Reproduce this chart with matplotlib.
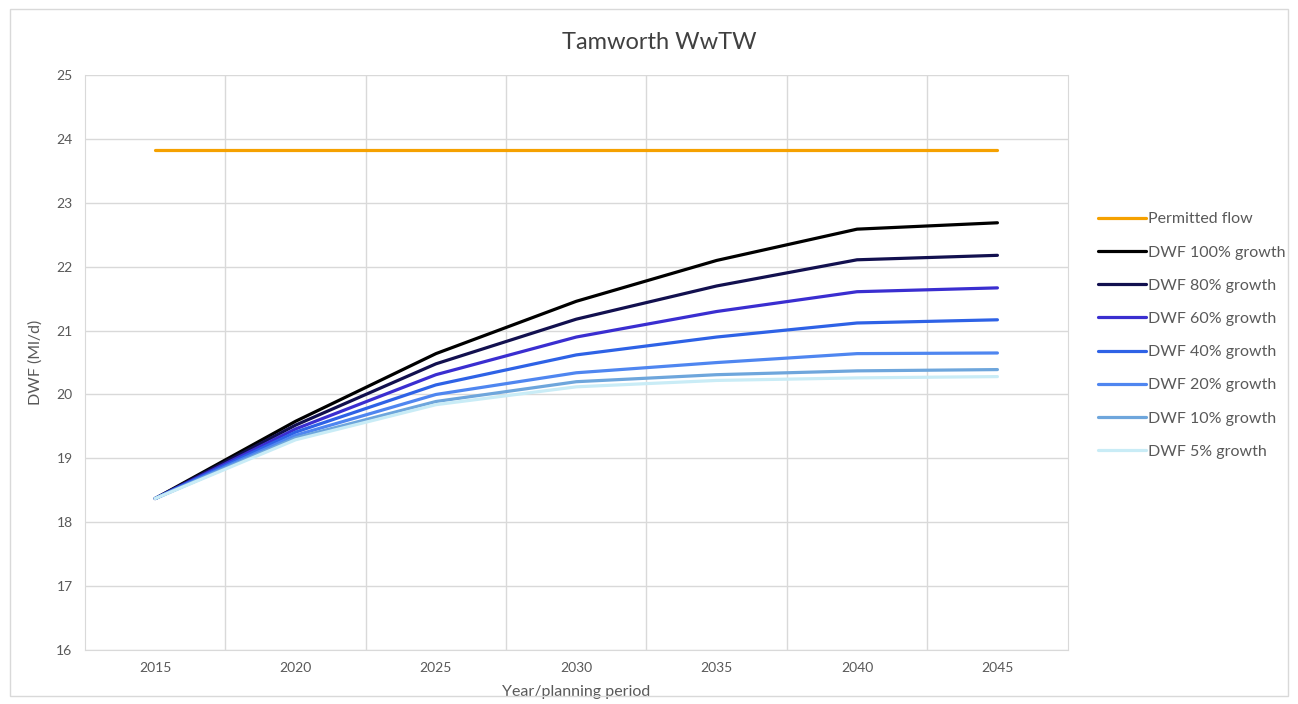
import matplotlib
matplotlib.use("Agg")
import matplotlib.pyplot as plt
from matplotlib.patches import Rectangle

plt.rcParams['font.family'] = ['Lato', 'DejaVu Sans']

years = ["2015", "2020", "2025", "2030", "2035", "2040", "2045"]

permitted = [23.83, 23.83, 23.83, 23.83, 23.83, 23.83, 23.83]
dwf_100 = [18.37, 19.58, 20.64, 21.46, 22.10, 22.59, 22.69]
dwf_80 = [18.37, 19.52, 20.48, 21.18, 21.70, 22.11, 22.18]
dwf_60 = [18.37, 19.46, 20.31, 20.90, 21.30, 21.61, 21.67]
dwf_40 = [18.37, 19.41, 20.15, 20.62, 20.90, 21.12, 21.17]
dwf_20 = [18.37, 19.36, 20.00, 20.34, 20.50, 20.64, 20.65]
dwf_10 = [18.37, 19.32, 19.89, 20.20, 20.31, 20.37, 20.39]
dwf_5 = [18.37, 19.29, 19.84, 20.12, 20.22, 20.26, 20.28]

labels = ["Permitted flow", "DWF 100% growth", "DWF 80% growth", "DWF 60% growth",
          "DWF 40% growth", "DWF 20% growth", "DWF 10% growth", "DWF 5% growth"]
colors = ["#f5a100", "#000000", "#12104f", "#3a2ed0", "#2e62e6", "#4f86f0", "#6ea6dc", "#c9ecf6"]
series = [permitted, dwf_100, dwf_80, dwf_60, dwf_40, dwf_20, dwf_10, dwf_5]

fig = plt.figure(figsize=(12.98, 7.04), dpi=100)
ax = fig.add_axes([0.0655, 0.077, 0.757, 0.816])

x = list(range(len(years)))
for ys, c, lab in zip(series, colors, labels):
    ax.plot(x, ys, color=c, linewidth=2.3, label=lab, solid_capstyle='round')

ax.set_xlim(-0.5, 6.5)
ax.set_ylim(16, 25)
ax.set_xticks(x)
ax.set_xticklabels(years)
ax.set_xticks([i + 0.5 for i in range(6)], minor=True)
ax.set_yticks(range(16, 26))
ax.grid(True, which='major', axis='y', color='#d9d9d9', linewidth=1)
ax.grid(True, which='minor', axis='x', color='#d9d9d9', linewidth=1)
ax.tick_params(which='both', length=0, colors='#595959', labelsize=10, pad=9)
for s in ax.spines.values():
    s.set_color('#d9d9d9')
ax.spines['top'].set_visible(False)

fig.text(0.508, 0.94, "Tamworth WwTW", fontsize=17, color='#404040', ha='center', va='center')
ax.set_xlabel("Year/planning period", fontsize=11.5, color='#595959', labelpad=8)
ax.set_ylabel("DWF (Ml/d)", fontsize=11.5, color='#595959', labelpad=10)

fig.legend(loc='upper left', bbox_to_anchor=(0.835, 0.719), frameon=False,
           fontsize=11.5, labelcolor='#595959', handlelength=3.0, handletextpad=0.1,
           labelspacing=1.19)

fig.patches.append(Rectangle((0.008, 0.012), 0.984, 0.975, transform=fig.transFigure,
                             fill=False, edgecolor='#d9d9d9', linewidth=1))

fig.savefig("out.png", dpi=100)
